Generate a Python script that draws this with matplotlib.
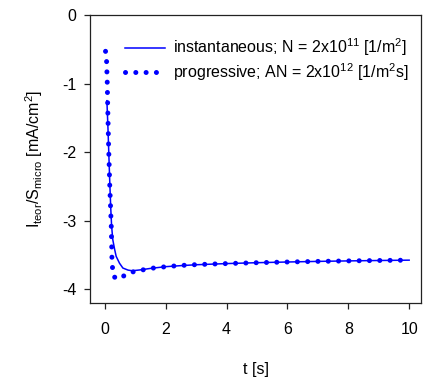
import matplotlib
matplotlib.use('Agg')
import matplotlib.pyplot as plt

matplotlib.rcParams['font.family'] = ['Liberation Sans', 'DejaVu Sans']
matplotlib.rcParams['mathtext.fontset'] = 'custom'
matplotlib.rcParams['mathtext.rm'] = 'Liberation Sans'
matplotlib.rcParams['mathtext.it'] = 'Liberation Sans:italic'
matplotlib.rcParams['mathtext.default'] = 'regular'
matplotlib.rcParams['axes.unicode_minus'] = False

# instantaneous nucleation (solid line)
t_inst = [0.065, 0.10, 0.13, 0.16, 0.19, 0.22, 0.26, 0.32, 0.37, 0.48, 0.59,
          0.76, 0.90, 1.2, 1.5, 2.0, 2.5, 3.0, 4.0, 5.0, 6.0, 7.0, 8.0, 9.0, 10.0]
i_inst = [-1.25, -1.65, -2.05, -2.45, -2.80, -3.08, -3.28, -3.42, -3.52, -3.62, -3.69,
          -3.72, -3.73, -3.715, -3.695, -3.67, -3.655, -3.642, -3.625, -3.612, -3.602,
          -3.593, -3.586, -3.58, -3.575]

# progressive nucleation (dotted line)
t_prog = [0.02, 0.055, 0.077, 0.09, 0.12, 0.16, 0.21, 0.23, 0.25, 0.30, 0.47,
          0.67, 0.93, 1.21, 1.5, 1.81, 2.12, 2.76, 3.5, 4.0, 5.0, 6.0, 7.0, 8.0, 9.0, 10.0]
i_prog = [-0.53, -0.68, -1.0, -1.3, -1.89, -2.5, -3.1, -3.54, -3.69, -3.82, -3.85,
          -3.79, -3.745, -3.72, -3.695, -3.68, -3.665, -3.645, -3.632, -3.625, -3.612,
          -3.602, -3.593, -3.586, -3.58, -3.575]

fig = plt.figure(figsize=(4.23, 3.84), dpi=100)
ax = fig.add_axes([0.2128, 0.2109, 0.9953 - 0.2128, 0.961 - 0.2109])

ax.plot(t_inst, i_inst, color='#0000ff', lw=1.1,
        label='instantaneous; N = 2x10$^{11}$ [1/m$^{2}$]')
ax.plot(t_prog, i_prog, color='#0000ff', lw=3.6, linestyle=(0, (0.01, 2.05)),
        dash_capstyle='round', label='progressive; AN = 2x10$^{12}$ [1/m$^{2}$s]')

ax.set_xlim(-0.49, 10.39)
ax.set_ylim(-4.2, 0)
ax.set_xticks([0, 2, 4, 6, 8, 10])
ax.set_yticks([0, -1, -2, -3, -4])

for s in ax.spines.values():
    s.set_linewidth(0.9)
    s.set_color('#222222')
ax.tick_params(direction='out', length=4, width=0.9, color='#222222',
               labelsize=11.5, pad=6, top=False, right=False)
ax.tick_params(axis='x', pad=9.5)

ax.set_xlabel('t [s]', fontsize=11.5, labelpad=18)
ax.set_ylabel('I$_{teor}$/S$_{micro}$ [mA/cm$^{2}$]', fontsize=11.5, labelpad=12)

ax.legend(loc='upper right', frameon=False, fontsize=11.5, handlelength=2.5,
          handletextpad=0.5, borderaxespad=0.4, labelspacing=0.2,
          bbox_to_anchor=(1.0, 0.97))

fig.savefig('out.png', dpi=100)
